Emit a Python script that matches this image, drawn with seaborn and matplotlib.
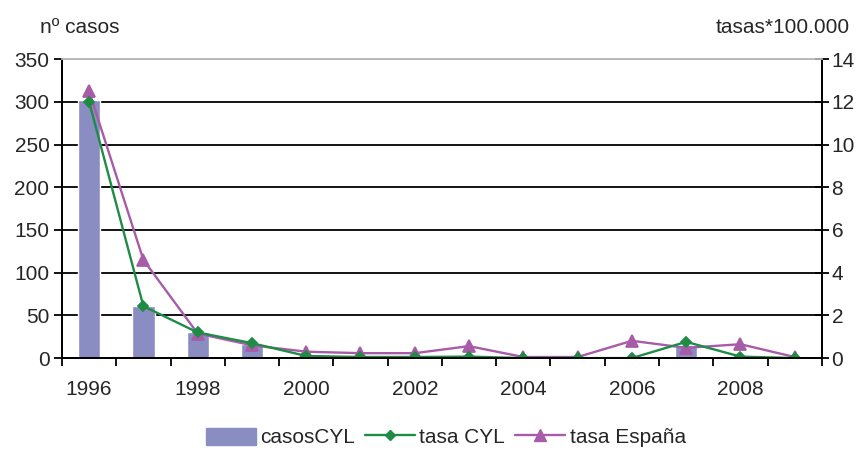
import numpy as np
import pandas as pd
import matplotlib
matplotlib.use("Agg")
import matplotlib.pyplot as plt
import seaborn as sns
from matplotlib.patches import Patch
from matplotlib.lines import Line2D

years = [str(y) for y in range(1996, 2010)]
casos_cyl = [302, 61, 30, 17, 3, 1, 1, 1, 0, 0, 0, 15, 1, 0]
tasa_cyl = [12.0, 2.43, 1.2, 0.7, 0.1, 0.05, 0.05, 0.07, 0.0, 0.0, 0.0, 0.76, 0.07, 0.0]
tasa_esp = [12.5, 4.6, 1.15, 0.6, 0.3, 0.23, 0.23, 0.56, 0.05, 0.05, 0.81, 0.48, 0.65, 0.05]
even_labels = [y if int(y) % 2 == 0 else "" for y in years]

bar_color = "#8A8DC2"
green = "#1E8C45"
purple = "#A85CA8"
fs = 15

sns.set_theme(style="white")
plt.rcParams['font.family'] = ['Liberation Sans', 'DejaVu Sans']

df = pd.DataFrame({"year": years, "casos": casos_cyl, "tcyl": tasa_cyl, "tesp": tasa_esp})

fig = plt.figure(figsize=(8.57, 4.51), dpi=100)
ax = fig.add_axes([0.0723, 0.206, 0.8867, 0.663])
sns.barplot(data=df, x="year", y="casos", color=bar_color, width=0.41, ax=ax,
            saturation=1, zorder=2)
ax.set_ylim(0, 350)
ax.set_yticks(np.arange(0, 351, 50))
ax.yaxis.grid(True, color="black", lw=1.3, zorder=0)
ax.set_axisbelow(True)
ax.set_xlim(-0.5, 13.5)
ax.set_xlabel("")
ax.set_ylabel("")

ax2 = ax.twinx()
sns.pointplot(data=df, x="year", y="tesp", color=purple, markers="^", ax=ax2,
              linewidth=1.7, markersize=8)
sns.pointplot(data=df, x="year", y="tcyl", color=green, markers="D", ax=ax2,
              linewidth=1.7, markersize=5.5)
ax2.set_ylim(0, 14)
ax2.set_yticks(np.arange(0, 15, 2))
ax2.set_xlim(-0.5, 13.5)
ax2.set_ylabel("")
ax2.set_xlabel("")

for a in (ax, ax2):
    a.spines["top"].set_color("#BBBBBB")
    a.spines["left"].set_color("black")
    a.spines["right"].set_color("black")
    a.spines["bottom"].set_color("black")
    for s in ("left", "right", "bottom"):
        a.spines[s].set_linewidth(1.3)

ax.set_xticks(range(len(years)))
ax.set_xticklabels(even_labels, fontsize=fs)
ax.tick_params(axis="x", which="major", length=0, pad=16)
ax.set_xticks(np.arange(-0.5, 13.6, 1), minor=True)
ax.tick_params(axis="x", which="minor", length=6, width=1.3, color="black", direction="out", bottom=True)
ax.tick_params(axis="y", length=6, width=1.3, color="black", direction="out", labelsize=fs, left=True, pad=3)
ax2.tick_params(axis="y", length=10, width=1.3, color="black", direction="inout", labelsize=fs, right=True, pad=2)
ax2.tick_params(axis="x", which="both", length=0)

fig.text(0.047, 0.94, "nº casos", fontsize=fs, ha="left", va="center")
fig.text(0.992, 0.94, "tasas*100.000", fontsize=fs, ha="right", va="center")

handles = [Patch(color=bar_color),
           Line2D([0], [0], color=green, marker="D", markersize=5.5, lw=1.7),
           Line2D([0], [0], color=purple, marker="^", markersize=8.5, lw=1.7)]
fig.legend(handles, ["casosCYL", "tasa CYL", "tasa España"], loc="center",
           bbox_to_anchor=(0.52, 0.03), ncol=3, frameon=False, fontsize=fs,
           handlelength=2.4, handleheight=0.9, handletextpad=0.2, columnspacing=0.5)

fig.savefig("out.png", dpi=100)
